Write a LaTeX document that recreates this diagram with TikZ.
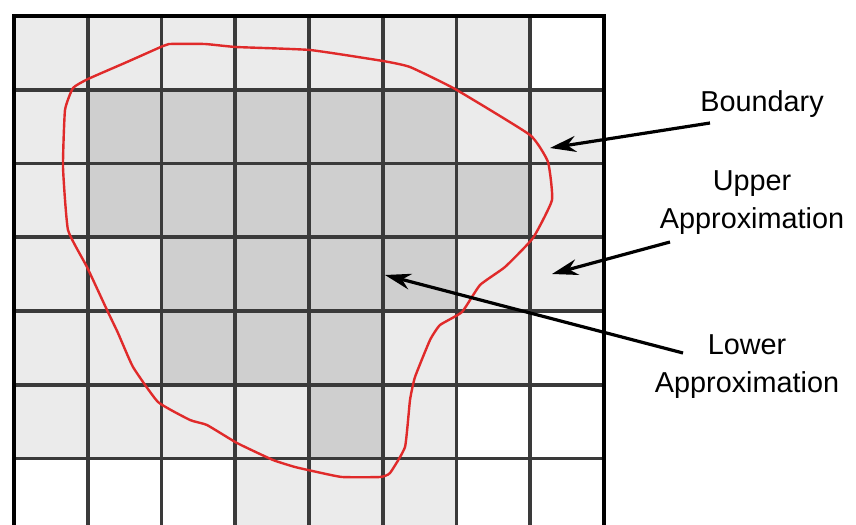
\documentclass[tikz,border=0pt]{standalone}
\usepackage{fontspec}
\setmainfont{Liberation Sans}
\usepackage{xcolor}
\usepackage{tikz}
\usetikzlibrary{arrows.meta, positioning}

\definecolor{lightcell}{HTML}{EBEBEB}
\definecolor{darkcell}{HTML}{CFCFCF}
\definecolor{gridline}{HTML}{3A3A3A}
\definecolor{setred}{HTML}{E02A2A}

\begin{document}
\begin{tikzpicture}[
            x=0.25mm, y=-0.25mm,
            cell0/.style={fill=white},
            cell1/.style={fill=lightcell},
            cell2/.style={fill=darkcell},
            gridrule/.style={draw=gridline, line width=0.95mm},
            border/.style={draw=black, line width=0.95mm},
            setline/.style={draw=setred, line width=0.6mm, line join=round},
            label/.style={font=\fontsize{20.5}{27}\selectfont, align=center, inner sep=0pt},
            arrow/.style={-{Stealth[length=6.5mm, width=4mm]}, line width=0.8mm}
        ]
            \def\cs{73.75}
            \clip (0,0) rectangle (856,524);

            % cells, one row per entry: 0 outside, 1 boundary, 2 lower approximation
            \foreach \row [count=\r from 0] in {
                    {1,1,1,1,1,1,1,0},
                    {1,2,2,2,2,2,1,1},
                    {1,2,2,2,2,2,2,1},
                    {1,1,2,2,2,2,1,1},
                    {1,1,2,2,2,1,1,0},
                    {1,1,1,1,2,1,0,0},
                    {0,0,0,1,1,1,0,0}} {
                \foreach \v [count=\c from 0] in \row {
                    \fill[cell\v] ({14+\c*\cs},{16+\r*\cs}) rectangle +(\cs,\cs);
                }
            }

            % grid
            \foreach \i in {1,...,7} {
                \draw[gridrule] ({14+\i*\cs},16) -- ({14+\i*\cs},{16+7*\cs});
            }
            \foreach \j in {1,...,6} {
                \draw[gridrule] (14,{16+\j*\cs}) -- ({14+8*\cs},{16+\j*\cs});
            }
            \draw[border] (14,16) rectangle ({14+8*\cs},{16+7*\cs});

            % the set
            \draw[setline] plot[smooth cycle, tension=0.25] coordinates {
                (169,44) (205,44) (236,47) (310,50) (383,61) (410,67) (455,89)
                (530,135) (548,162) (552,200) (533,238) (505,267) (480,285)
                (462,312) (440,325) (430,340) (415,377) (410,400) (405,447)
                (390,473) (380,477) (342,477) (317,472) (295,467) (273,460)
                (237,443) (207,425) (190,420) (158,402) (133,367) (118,333)
                (107,310) (87,267) (68,230) (63,167) (65,110) (73,88) (88,79)
                (127,62) (163,46)};

            % labels
            \node[label] (bnd) at (762,104) {Boundary};
            \node[label] (upp) at (752,203) {Upper\\Approximation};
            \node[label] (low) at (747,367) {Lower\\Approximation};

            \coordinate (bnd-tail) at (710,123);
            \coordinate (bnd-tip)  at (550,148);
            \coordinate (upp-tail) at (670,242);
            \coordinate (upp-tip)  at (552,274);
            \coordinate (low-tail) at (683,353);
            \coordinate (low-tip)  at (385,275);

            \draw[arrow] (bnd-tail) -- (bnd-tip);
            \draw[arrow] (upp-tail) -- (upp-tip);
            \draw[arrow] (low-tail) -- (low-tip);
        \end{tikzpicture}
\end{document}
